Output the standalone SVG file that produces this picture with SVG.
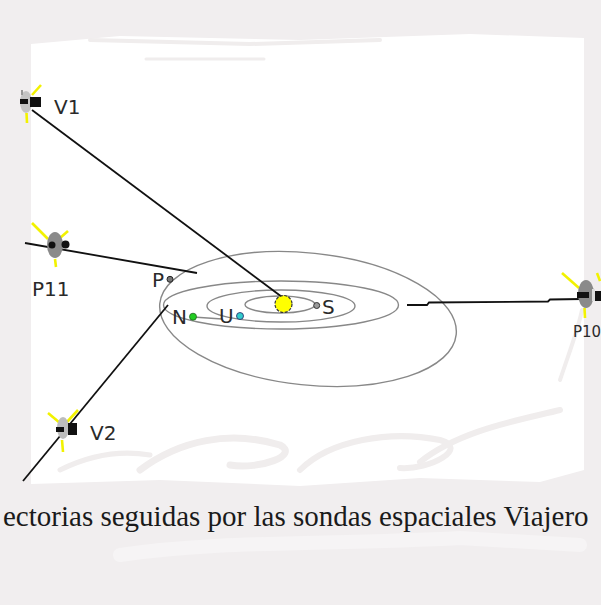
<svg xmlns="http://www.w3.org/2000/svg" width="601" height="605" viewBox="0 0 601 605">
  <defs>
    <style>
      .orbit { fill: none; stroke: #888; stroke-width: 1.4; }
      .path { fill: none; stroke: #111; stroke-width: 1.8; }
      .ant { stroke: #f2f200; stroke-width: 2.6; stroke-linecap: butt; }
      .lbl { font-family: "DejaVu Sans", Verdana, sans-serif; font-size: 20px; fill: #2a2a2a; }
      .small { font-size: 15px; }
      .cap { font-family: "Liberation Serif", "Times New Roman", serif; font-size: 29px; fill: #1a1a1a; }
      .stroke-bg { fill: none; stroke: #f0eded; stroke-linecap: round; }
    </style>
  </defs>

  <!-- paper background with a brushed white panel -->
  <rect width="601" height="605" fill="#f1eeef"/>
  <path d="M31 44 L120 36 L300 40 L470 34 L584 38 L584 470 L540 482 L420 478 L300 486 L160 480 L31 484 Z" fill="#ffffff"/>
  <g class="stroke-bg">
    <path d="M146 59 L264 59" stroke-width="3"/>
    <path d="M90 40 L250 44 L380 40" stroke-width="4"/>
    <path d="M140 470 C180 440 230 430 280 445 C300 455 260 470 230 465" stroke-width="7"/>
    <path d="M300 470 C330 440 390 430 440 440 C470 448 430 470 400 468" stroke-width="6"/>
    <path d="M420 462 C460 430 520 420 560 410" stroke-width="6"/>
    <path d="M60 470 C90 455 120 450 150 455" stroke-width="5"/>
    <path d="M560 380 C570 350 578 330 582 310" stroke-width="4"/>
    <path d="M120 555 C220 540 330 545 460 538 L580 545" stroke="#f6f4f5" stroke-width="14"/>
  </g>

  <!-- orbits -->
  <g id="orbits">
    <ellipse class="orbit" cx="280" cy="304.5" rx="35" ry="8.5"/>
    <ellipse class="orbit" cx="281" cy="306" rx="74" ry="16"/>
    <ellipse class="orbit" cx="281" cy="305" rx="117.5" ry="24"/>
    <ellipse class="orbit" cx="308" cy="319" rx="149" ry="66" transform="rotate(6 308 319)"/>
    <path class="orbit" d="M193 317 L222 319"/>
  </g>

  <!-- trajectories -->
  <g id="connectors">
    <path class="path" d="M32 110 L282 297"/>
    <path class="path" d="M25 243 L197 273"/>
    <path class="path" d="M168 305 L23 481"/>
    <path class="path" d="M407 305 L427 305 L429 302.5 L548 301.5 L550 299.5 L582 299"/>
  </g>

  <!-- Sun and planets -->
  <g id="sun">
    <circle cx="283.5" cy="304" r="8.5" fill="#ffff00" stroke="#333" stroke-width="1.2" stroke-dasharray="3 1.5"/>
  </g>
  <g id="saturn">
    <circle cx="316.7" cy="305.5" r="3" fill="#9a9a9a" stroke="#333" stroke-width="1"/>
    <text class="lbl" x="322" y="314">S</text>
  </g>
  <g id="uranus">
    <circle cx="240" cy="316" r="3.5" fill="#33cccc" stroke="#226" stroke-width="0.8"/>
    <text class="lbl" x="219" y="323">U</text>
  </g>
  <g id="neptune">
    <circle cx="193" cy="316.7" r="3.5" fill="#22cc22" stroke="#262" stroke-width="0.8"/>
    <text class="lbl" x="172" y="324">N</text>
  </g>
  <g id="pluto">
    <circle cx="170" cy="279.3" r="3" fill="#777" stroke="#222" stroke-width="1"/>
    <text class="lbl" x="152" y="287">P</text>
  </g>

  <!-- probes -->
  <g id="probe-v1">
    <line class="ant" x1="32" y1="95" x2="41" y2="85"/>
    <line class="ant" x1="26.5" y1="113" x2="27" y2="123"/>
    <ellipse cx="26" cy="102" rx="6" ry="11" fill="#c4c4c4"/>
    <rect x="21" y="90" width="2" height="5" fill="#999"/>
    <rect x="30" y="97" width="11" height="10" fill="#111"/>
    <rect x="20" y="99" width="8" height="5" fill="#111"/>
    <text class="lbl" x="54" y="114">V1</text>
  </g>
  <g id="probe-p11">
    <line class="ant" x1="32" y1="223" x2="48" y2="239"/>
    <line class="ant" x1="60" y1="238" x2="68" y2="231"/>
    <line class="ant" x1="55" y1="259" x2="56" y2="267"/>
    <ellipse cx="55" cy="245" rx="8" ry="13" fill="#8a8a8a"/>
    <circle cx="52" cy="245" r="3.5" fill="#111"/>
    <circle cx="65.5" cy="244.5" r="4" fill="#111"/>
    <text class="lbl" x="32" y="296">P11</text>
  </g>
  <g id="probe-p10">
    <line class="ant" x1="562" y1="273" x2="579" y2="288"/>
    <line class="ant" x1="597" y1="273" x2="600" y2="281"/>
    <line class="ant" x1="584.5" y1="308" x2="585" y2="318"/>
    <ellipse cx="586" cy="294" rx="8" ry="14" fill="#8a8a8a"/>
    <rect x="577" y="292" width="12" height="6" fill="#111"/>
    <rect x="592" y="289" width="3" height="12" fill="#ddd"/>
    <rect x="595" y="291" width="6" height="10" fill="#111"/>
    <text class="lbl small" x="573" y="337">P10</text>
  </g>
  <g id="probe-v2">
    <line class="ant" x1="48" y1="413" x2="60" y2="423"/>
    <line class="ant" x1="67" y1="422" x2="78" y2="410"/>
    <line class="ant" x1="62" y1="440" x2="63" y2="452"/>
    <ellipse cx="63" cy="428" rx="6" ry="11" fill="#bdbdbd"/>
    <rect x="68" y="423" width="9" height="12" fill="#111"/>
    <rect x="56" y="427" width="8" height="5" fill="#111"/>
    <text class="lbl" x="90" y="440">V2</text>
  </g>

  <!-- caption -->
  <text class="cap" x="3" y="526">ectorias seguidas por las sondas espaciales Viajero</text>
</svg>
